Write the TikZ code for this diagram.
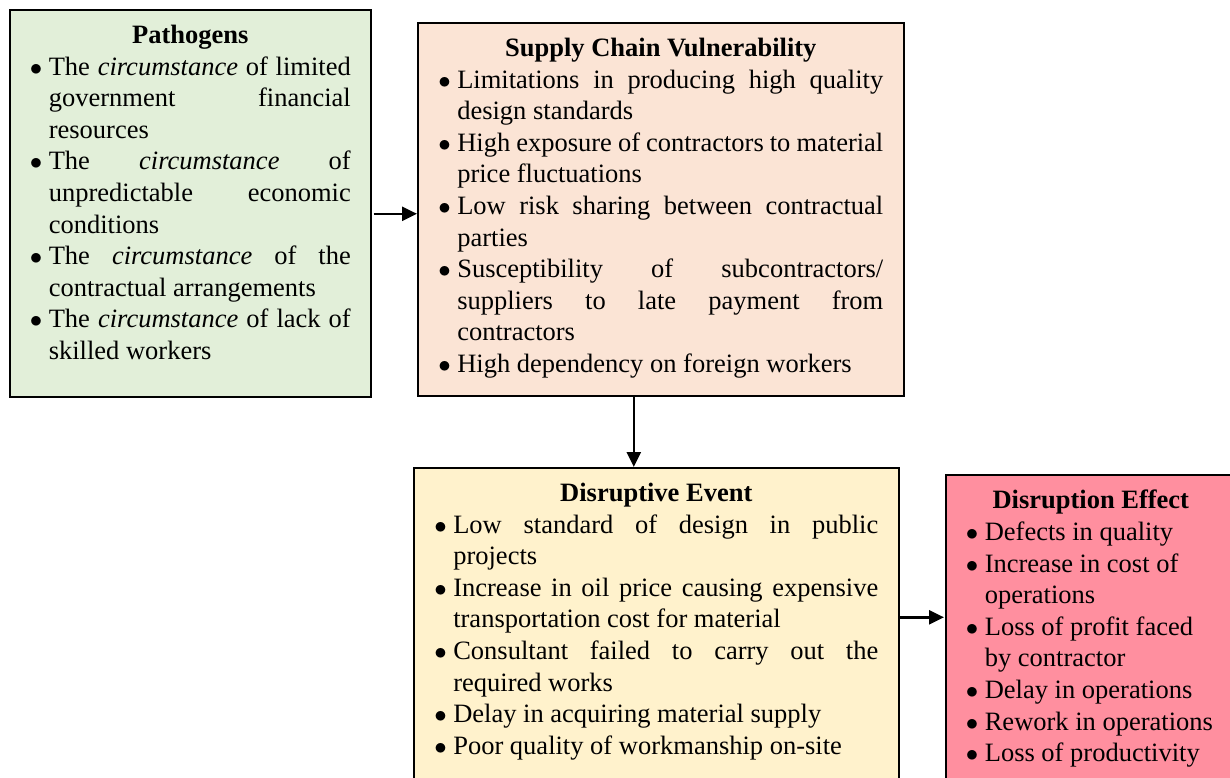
\documentclass[tikz,border=0pt]{standalone}
\usepackage{fontspec}
\setmainfont{Liberation Serif}
\usetikzlibrary{positioning,arrows.meta}

\definecolor{pathgreen}{HTML}{E2EFD9}
\definecolor{vulnpeach}{HTML}{FBE4D5}
\definecolor{eventyellow}{HTML}{FFF2CC}
\definecolor{effectpink}{HTML}{FF8F9F}

\hyphenpenalty=10000
\exhyphenpenalty=10000
\tolerance=10000
\newcommand{\itm}{\par\hangindent=19pt\hangafter=1\noindent\makebox[19pt][l]{$\bullet$}}
\newcommand{\boxtitle}[1]{{\centering\bfseries #1\par}}

\tikzset{
  box/.style={draw=black, line width=1.6pt, anchor=north west, inner sep=0pt},
  txt/.style={inner sep=0pt, font=\fontsize{26.5}{31.6}\selectfont},
  arr/.style={-{Triangle[length=15pt,width=14pt]}, line width=2.4pt}
}

\begin{document}
\begin{tikzpicture}[x=1pt,y=-1pt]
  \useasboundingbox (0,0) rectangle (1230,778);

  \node[box, fill=pathgreen, minimum width=361pt, minimum height=387pt] (pat) at (9,9) {};
  \node[box, fill=vulnpeach, minimum width=486pt, minimum height=373pt] (scv) at (417,22) {};
  \node[box, fill=eventyellow, minimum width=485pt, minimum height=330pt] (de) at (413,467) {};
  \node[box, fill=effectpink, minimum width=290pt, minimum height=330pt] (eff) at (945,474) {};

  \node[txt, below=16pt of pat.north] (pattxt) {\parbox{321pt}{%
    \boxtitle{Pathogens}
    \itm The \textit{circumstance} of limited\linebreak government financial\linebreak resources
    \itm The \textit{circumstance} of\linebreak unpredictable economic\linebreak conditions
    \itm The \textit{circumstance} of the\linebreak contractual arrangements
    \itm The \textit{circumstance} of lack of\linebreak skilled workers\par}};

  \node[txt, below=16pt of scv.north] (scvtxt) {\parbox{445pt}{%
    \boxtitle{Supply Chain Vulnerability}
    \itm Limitations in producing high quality\linebreak design standards
    \itm High exposure of contractors to material\linebreak price fluctuations
    \itm Low risk sharing between contractual\linebreak parties
    \itm Susceptibility of subcontractors/\linebreak suppliers to late payment from\linebreak contractors
    \itm High dependency on foreign workers\par}};

  \node[txt, below=16pt of de.north] (detxt) {\parbox{444pt}{%
    \boxtitle{Disruptive Event}
    \itm Low standard of design in public\linebreak projects
    \itm Increase in oil price causing expensive\linebreak transportation cost for material
    \itm Consultant failed to carry out the\linebreak required works
    \itm Delay in acquiring material supply
    \itm Poor quality of workmanship on-site\par}};

  \node[txt, below=16pt of eff.north] (efftxt) {\parbox{250pt}{%
    \boxtitle{Disruption Effect}
    \raggedright
    \itm Defects in quality
    \itm Increase in cost of\newline operations
    \itm Loss of profit faced\newline by contractor
    \itm Delay in operations
    \itm Rework in operations
    \itm Loss of productivity\par}};

  \draw[arr] ([xshift=2pt,yshift=-10.5pt]pat.east) -- ([yshift=-10.5pt]pat.east -| scv.west);
  \draw[arr] ([xshift=-27pt]scv.south) -- ([xshift=-27pt]scv.south |- de.north);
  \draw[arr] ([yshift=15.5pt]de.east) -- ([yshift=15.5pt,xshift=-1pt]de.east -| eff.west);

\end{tikzpicture}
\end{document}
